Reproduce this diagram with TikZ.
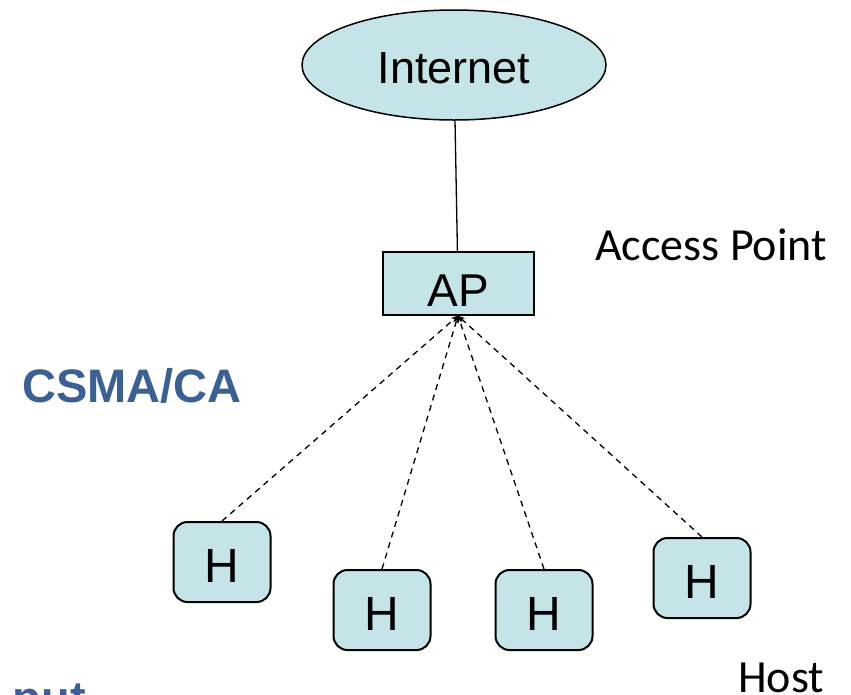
\documentclass[tikz,border=0pt]{standalone}
\usepackage{fontspec}
\setmainfont{Liberation Sans}
\newfontfamily\calibri{Carlito}
\usetikzlibrary{shapes, arrows.meta, positioning}
\definecolor{boxfill}{RGB}{197,228,232}
\definecolor{slideblue}{RGB}{59,96,150}
\tikzstyle{netcloud} = [ellipse, draw, fill=boxfill, line width=1.5pt,
    minimum width=304pt, minimum height=110pt, text height=36pt, text depth=0pt,
    font=\fontsize{45}{54}\selectfont]
\tikzstyle{apbox} = [rectangle, draw, fill=boxfill, line width=2pt,
    minimum width=151pt, minimum height=63pt, text height=46pt, text depth=0pt,
    font=\fontsize{46}{55}\selectfont]
\tikzstyle{host} = [rectangle, rounded corners=14pt, draw, fill=boxfill, line width=2pt,
    minimum width=97pt, minimum height=80pt, text height=40pt, text depth=0pt,
    font=\fontsize{48}{58}\selectfont]
\tikzstyle{wire} = [draw, line width=1.3pt]
\tikzstyle{radio} = [draw, line width=1.3pt, dash pattern=on 6pt off 5pt,
    -{Stealth[length=7pt, width=6pt]}]
\tikzstyle{caption} = [inner sep=0pt, anchor=base west,
    font=\calibri\fontsize{46}{55}\selectfont]
\tikzstyle{slidetext} = [inner sep=0pt, anchor=base west, text=slideblue,
    font=\bfseries\fontsize{47}{56}\selectfont]

\begin{document}
\begin{tikzpicture}[x=1pt, y=-1pt]
    \useasboundingbox (0,0) rectangle (851,694);
    % Nodes
    \node [netcloud] (internet) at (454,65) {Internet};
    \node [apbox, below=130pt of internet, xshift=4pt] (ap) {AP};
    \node [host] (h1) at (222,562) {H};
    \node [host] (h2) at (382,610) {H};
    \node [host, right=63pt of h2] (h3) {H};
    \node [host] (h4) at (702,578) {H};
    % Labels
    \node [caption] (aplabel) at (595,260) {Access Point};
    \node [caption] (hostlabel) at (738,692) {Host};
    \node [slidetext] (protocol) at (22,402) {CSMA/CA};
    \node [slidetext, anchor=base east] (metric) at (86,714) {put};
    % Edges
    \path [wire] (internet) -- (ap);
    \foreach \h in {h1,h2,h3,h4}
        \path [radio] (\h.north) -- (ap.south);
\end{tikzpicture}
\end{document}
